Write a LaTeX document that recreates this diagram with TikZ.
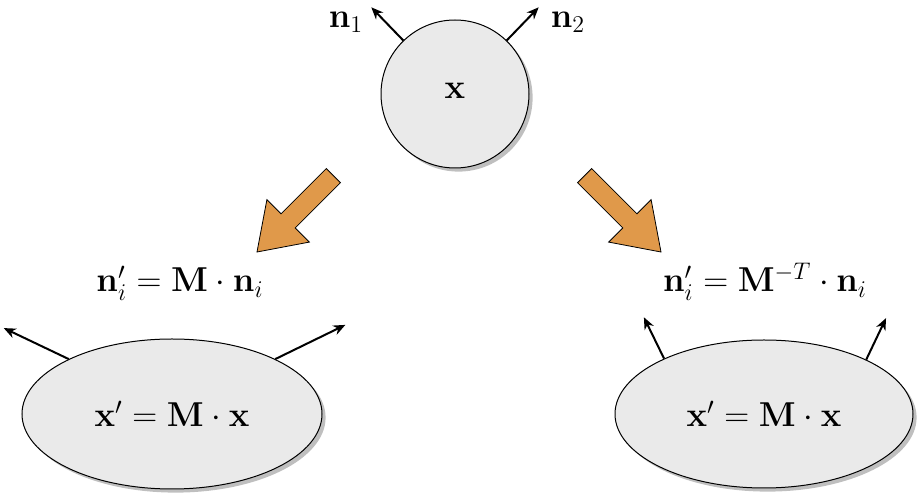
\documentclass[tikz,border=0pt]{standalone}
\usepackage{amsmath, amssymb}
\usepackage{xcolor}
\usepackage{tikz}
\usetikzlibrary{arrows.meta, positioning, calc, shapes.geometric, shadows}

\definecolor{blobgray}{RGB}{234,234,234}
\definecolor{fatorange}{RGB}{224,153,74}

\begin{document}
\begin{tikzpicture}[x=0.5pt, y=0.5pt,
  blob/.style={draw, fill=blobgray, line width=0.5pt,
    drop shadow={opacity=0.5, shadow xshift=1.8pt, shadow yshift=-1.8pt}},
  normalvec/.style={-{Stealth[length=6pt,width=5pt]}, line width=1pt},
  fatarrow/.style={draw, line width=0.4pt, fill=fatorange},
  lbl/.style={font=\fontsize{17.8}{20}\selectfont}]
\useasboundingbox (0,0) rectangle (922,498);

% point and its normals
\node[blob, circle, minimum size=74pt, inner sep=0pt, lbl] (x) at (455,404) {\raisebox{3pt}{$\mathbf{x}$}};
\draw[normalvec] (x.134) -- ++(134:46) coordinate (t1);
\draw[normalvec] (x.46) -- ++(46:46) coordinate (t2);
\node[lbl, inner sep=0.5pt] (n1) at (346,476) {$\mathbf{n}_1$};
\node[lbl, inner sep=0.5pt] (n2) at (568,476) {$\mathbf{n}_2$};

% the two ways of transforming
\draw[fatarrow, shift={(257,246)}, rotate=225]
  (0,0) -- (-44,30) -- (-44,10) -- (-108,10) -- (-108,-10) -- (-44,-10) -- (-44,-30) -- cycle;
\draw[fatarrow, shift={(661,246)}, rotate=-45]
  (0,0) -- (-44,30) -- (-44,10) -- (-108,10) -- (-108,-10) -- (-44,-10) -- (-44,-30) -- cycle;

% wrong: normals times M
\node[lbl, anchor=base] (eqL) at (180,206) {$\mathbf{n}'_i = \mathbf{M}\cdot\mathbf{n}_i$};
\node[blob, ellipse, minimum width=150pt, minimum height=75pt, lbl] (xL) at (172,84)
  {$\mathbf{x}' = \mathbf{M}\cdot\mathbf{x}$};
\draw[normalvec] (xL.152) -- ++(154.5:72);
\draw[normalvec] (xL.28.5) -- ++(26:78);

% right: normals times inverse transpose
\node[lbl, anchor=base] (eqR) at (765,206) {$\mathbf{n}'_i = \mathbf{M}^{-T}\cdot\mathbf{n}_i$};
\node[blob, ellipse, minimum width=149pt, minimum height=74pt, lbl] (xR) at (764,84)
  {$\mathbf{x}' = \mathbf{M}\cdot\mathbf{x}$};
\draw[normalvec] (xR.151) -- ++(116:46);
\draw[normalvec] (xR.28) -- ++(64.5:46);
\end{tikzpicture}
\end{document}
